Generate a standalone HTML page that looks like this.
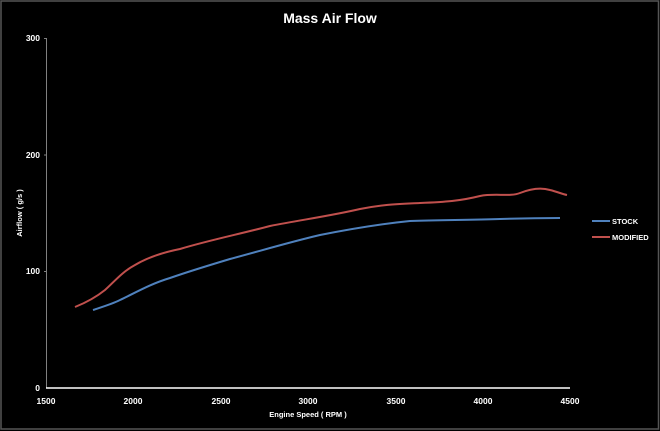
<!DOCTYPE html>
<html><head><meta charset="utf-8"><style>
html,body{margin:0;padding:0;background:#000;}
svg{display:block;}
text{font-family:"Liberation Sans",sans-serif;fill:#fff;font-weight:bold;}
</style></head><body>
<svg width="660" height="431" viewBox="0 0 660 431" xmlns="http://www.w3.org/2000/svg">
<rect x="0" y="0" width="660" height="431" fill="#000"/>
<rect x="1" y="1" width="657.5" height="428" fill="none" stroke="#555" stroke-width="1.5"/>
<text x="330" y="23" font-size="14" text-anchor="middle">Mass Air Flow</text>
<line x1="46.5" y1="38" x2="46.5" y2="388" stroke="#808080" stroke-width="1"/>
<line x1="44" y1="38.5" x2="46.5" y2="38.5" stroke="#808080"/>
<line x1="44" y1="155" x2="46.5" y2="155" stroke="#808080"/>
<line x1="44" y1="271.5" x2="46.5" y2="271.5" stroke="#808080"/>
<line x1="46" y1="388" x2="570" y2="388" stroke="#fff" stroke-width="1.5"/>
<g font-size="8.5" text-anchor="end">
<text x="40" y="41">300</text>
<text x="40" y="158">200</text>
<text x="40" y="274">100</text>
<text x="40" y="391">0</text>
</g>
<g font-size="8.5" text-anchor="middle">
<text x="46" y="404">1500</text>
<text x="133" y="404">2000</text>
<text x="221" y="404">2500</text>
<text x="308" y="404">3000</text>
<text x="396" y="404">3500</text>
<text x="483" y="404">4000</text>
<text x="570" y="404">4500</text>
</g>
<text x="308" y="417" font-size="7.5" text-anchor="middle">Engine Speed ( RPM )</text>
<text transform="translate(22,213) rotate(-90)" font-size="7.5" text-anchor="middle">Airflow ( g/s )</text>
<path fill="none" stroke="#4f81bd" stroke-width="2" d="M93,310 C105,306 112,304 120,300 C135,293 150,284 170,278 C190,271 210,265 230,259 C260,251 290,242 320,235 C350,229 380,224 410,221 C440,220 470,220 500,219 C530,218 545,218 560,218"/>
<path fill="none" stroke="#c0504d" stroke-width="2" d="M75,307 C85,303 95,298 105,290 C115,281 122,272 135,265 C145,259 160,253 180,249 C210,240 240,234 270,226 C300,220 330,216 360,209 C385,204 400,204 420,203 C445,202 460,201 480,196 C495,193 510,197 520,193 C530,189 540,187 550,190 C558,192 562,194 567,195"/>
<line x1="592" y1="221" x2="610" y2="221" stroke="#4f81bd" stroke-width="2"/>
<text x="612" y="224" font-size="7.5">STOCK</text>
<line x1="592" y1="237" x2="610" y2="237" stroke="#c0504d" stroke-width="2"/>
<text x="612" y="240" font-size="7.5">MODIFIED</text>
</svg>
</body></html>
